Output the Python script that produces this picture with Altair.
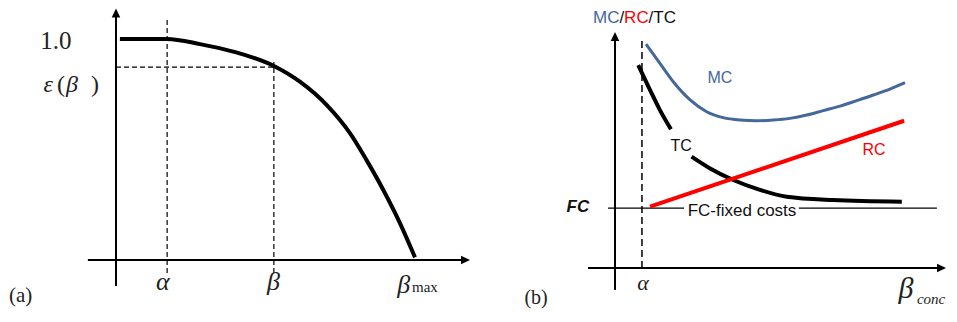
import altair as alt
import pandas as pd

# ---------------- Panel (a): epsilon(beta) curve ----------------
A_CURVE_X = [0.013, 0.170, 0.281, 0.392, 0.528, 0.615, 0.705, 0.783, 0.838, 0.894, 0.950, 1.000]
A_CURVE_Y = [1.000, 1.000, 0.977, 0.943, 0.878, 0.807, 0.701, 0.573, 0.452, 0.317, 0.166, 0.012]
A_ALPHA = 0.171
A_BETA = 0.528
A_EPS = 0.873

# ---------------- Panel (b): cost curves ----------------
MC_X = [0.107, 0.155, 0.201, 0.259, 0.316, 0.373, 0.431, 0.489, 0.546, 0.603,
        0.661, 0.718, 0.776, 0.833, 0.891, 0.948, 1.000]
MC_Y = [0.949, 0.867, 0.789, 0.712, 0.662, 0.637, 0.627, 0.624, 0.627, 0.634,
        0.648, 0.667, 0.686, 0.709, 0.733, 0.758, 0.785]
TC_X = [0.080, 0.121, 0.155, 0.193, 0.264, 0.328, 0.408, 0.500, 0.592, 0.753, 0.989]
TC_Y = [0.860, 0.754, 0.669, 0.588, 0.472, 0.422, 0.373, 0.331, 0.302, 0.288, 0.281]
TC_SEG = ["upper", "upper", "upper", "upper", "lower", "lower", "lower", "lower", "lower", "lower", "lower"]
RC_X = [0.121, 0.997]
RC_Y = [0.260, 0.624]
FC_LEVEL = 0.254
B_ALPHA = 0.093

# scale domains (plot-area framing of each panel)
A_DOM_X = [-0.3612, 1.2107]
A_DOM_Y = [-0.2262, 1.1403]
B_DOM_X = [-0.4724, 1.1483]
B_DOM_Y = [-0.1780, 1.1017]
W, H = 470, 302

SERIF = "Liberation Serif"
SANS = "Liberation Sans"
BLUE = "#44689B"
RED = "#FF0000"
UP = "M0,-1L0.95,1L-0.95,1Z"
RIGHT = "M1,0L-1,-0.95L-1,0.95Z"


def enc(dx, dy):
    return dict(
        x=alt.X("x:Q", scale=alt.Scale(domain=dx, nice=False, zero=False), axis=None),
        y=alt.Y("y:Q", scale=alt.Scale(domain=dy, nice=False, zero=False), axis=None),
    )


def segs(rows, dx, dy, **mk):
    df = pd.DataFrame(rows, columns=["x", "y", "x2", "y2"])
    return alt.Chart(df).mark_rule(**mk).encode(**enc(dx, dy), x2="x2:Q", y2="y2:Q")


def label(text, x, y, dx, dy, **mk):
    df = pd.DataFrame({"x": [x], "y": [y], "t": [text]})
    return alt.Chart(df).mark_text(**mk).encode(**enc(dx, dy), text="t:N")


def arrow(x, y, shape, dx, dy):
    df = pd.DataFrame({"x": [x], "y": [y]})
    return alt.Chart(df).mark_point(
        shape=shape, filled=True, size=81, color="black", opacity=1, strokeWidth=0
    ).encode(**enc(dx, dy))


# ---------------- build panel (a) ----------------
ax, ay = A_DOM_X, A_DOM_Y
a_axes = segs([[0, -0.118, 0, 1.1176], [-0.094, 0, 1.1689, 0]], ax, ay, color="black", strokeWidth=2)
a_dash = segs(
    [[A_ALPHA, -0.059, A_ALPHA, 1.086], [A_BETA, -0.059, A_BETA, 0.896], [0, A_EPS, A_BETA, A_EPS]],
    ax, ay, color="black", strokeWidth=1.2, strokeDash=[5, 3],
)
a_curve = alt.Chart(pd.DataFrame({"x": A_CURVE_X, "y": A_CURVE_Y})).mark_line(
    color="black", strokeWidth=4, interpolate="monotone"
).encode(**enc(ax, ay))
TXT = "#222"
panel_a = alt.layer(
    a_dash,
    a_axes,
    a_curve,
    arrow(0, 1.1176, UP, ax, ay),
    arrow(1.1689, 0, RIGHT, ax, ay),
    label("1.0", -0.201, 0.991, ax, ay, font=SERIF, fontSize=25, color=TXT),
    label("ε", -0.227, 0.790, ax, ay, font=SERIF, fontSize=24, fontStyle="italic", color=TXT),
    label("(", -0.184, 0.790, ax, ay, font=SERIF, fontSize=24, color=TXT),
    label("β", -0.147, 0.790, ax, ay, font=SERIF, fontSize=24, fontStyle="italic", color=TXT),
    label(")", -0.070, 0.790, ax, ay, font=SERIF, fontSize=24, color=TXT),
    label("α", 0.157, -0.100, ax, ay, font=SERIF, fontSize=26, fontStyle="italic", color=TXT),
    label("β", 0.527, -0.100, ax, ay, font=SERIF, fontSize=26, fontStyle="italic", color=TXT),
    label("β", 0.962, -0.111, ax, ay, font=SERIF, fontSize=26, fontStyle="italic", color=TXT),
    label("max", 0.990, -0.124, ax, ay, font=SERIF, fontSize=15, align="left", color=TXT),
    label("(a)", -0.358, -0.161, ax, ay, font=SERIF, fontSize=21, align="left", color=TXT),
).properties(width=W, height=H)

# ---------------- build panel (b) ----------------
bx, by = B_DOM_X, B_DOM_Y
b_axes = segs([[0, -0.093, 0, 0.981], [-0.093, 0, 1.126, 0]], bx, by, color="black", strokeWidth=2)
b_fc = segs([[-0.024, FC_LEVEL, 0.238, FC_LEVEL], [0.634, FC_LEVEL, 1.110, FC_LEVEL]], bx, by,
            color="black", strokeWidth=1.2)
b_dash = segs([[B_ALPHA, 0, B_ALPHA, 0.966]], bx, by, color="black", strokeWidth=1.5, strokeDash=[7, 4])
mc = alt.Chart(pd.DataFrame({"x": MC_X, "y": MC_Y})).mark_line(
    color=BLUE, strokeWidth=3, interpolate="monotone"
).encode(**enc(bx, by))
tc = alt.Chart(pd.DataFrame({"x": TC_X, "y": TC_Y, "seg": TC_SEG})).mark_line(
    color="black", strokeWidth=4, interpolate="monotone"
).encode(**enc(bx, by), detail="seg:N")
rc = alt.Chart(pd.DataFrame({"x": RC_X, "y": RC_Y})).mark_line(
    color=RED, strokeWidth=4
).encode(**enc(bx, by))

panel_b = alt.layer(
    b_dash,
    b_axes,
    b_fc,
    tc,
    rc,
    mc,
    arrow(0, 0.981, UP, bx, by),
    arrow(1.126, 0, RIGHT, bx, by),
    label("MC", -0.0759, 1.061, bx, by, font=SANS, fontSize=17, align="left", color=BLUE),
    label("/", 0.0152, 1.061, bx, by, font=SANS, fontSize=17, align="left", color="#111"),
    label("RC", 0.0314, 1.061, bx, by, font=SANS, fontSize=17, align="left", color=RED),
    label("/TC", 0.1159, 1.061, bx, by, font=SANS, fontSize=17, align="left", color="#111"),
    label("MC", 0.362, 0.803, bx, by, font=SANS, fontSize=16, color=BLUE),
    label("TC", 0.228, 0.519, bx, by, font=SANS, fontSize=16, color="#111"),
    label("RC", 0.893, 0.502, bx, by, font=SANS, fontSize=16, color=RED),
    label("FC", -0.128, 0.258, bx, by, font=SANS, fontSize=17, fontStyle="italic", fontWeight="bold", color="#111"),
    label("FC-fixed costs", 0.438, 0.242, bx, by, font=SANS, fontSize=17, color="#111"),
    label("α", 0.097, -0.064, bx, by, font=SERIF, fontSize=22, fontStyle="italic", color=TXT),
    label("β", 1.003, -0.089, bx, by, font=SERIF, fontSize=30, fontStyle="italic", color=TXT),
    label("conc", 1.041, -0.131, bx, by, font=SERIF, fontSize=15, fontStyle="italic", align="left", color=TXT),
    label("(b)", -0.272, -0.127, bx, by, font=SERIF, fontSize=20, color=TXT),
).properties(width=W, height=H)

chart = (
    alt.hconcat(panel_a, panel_b, spacing=0, bounds="flush")
    .properties(padding=0, background="white")
    .configure_view(stroke=None)
)

chart.save("out.html", embed_options={"renderer": "svg", "actions": False})
